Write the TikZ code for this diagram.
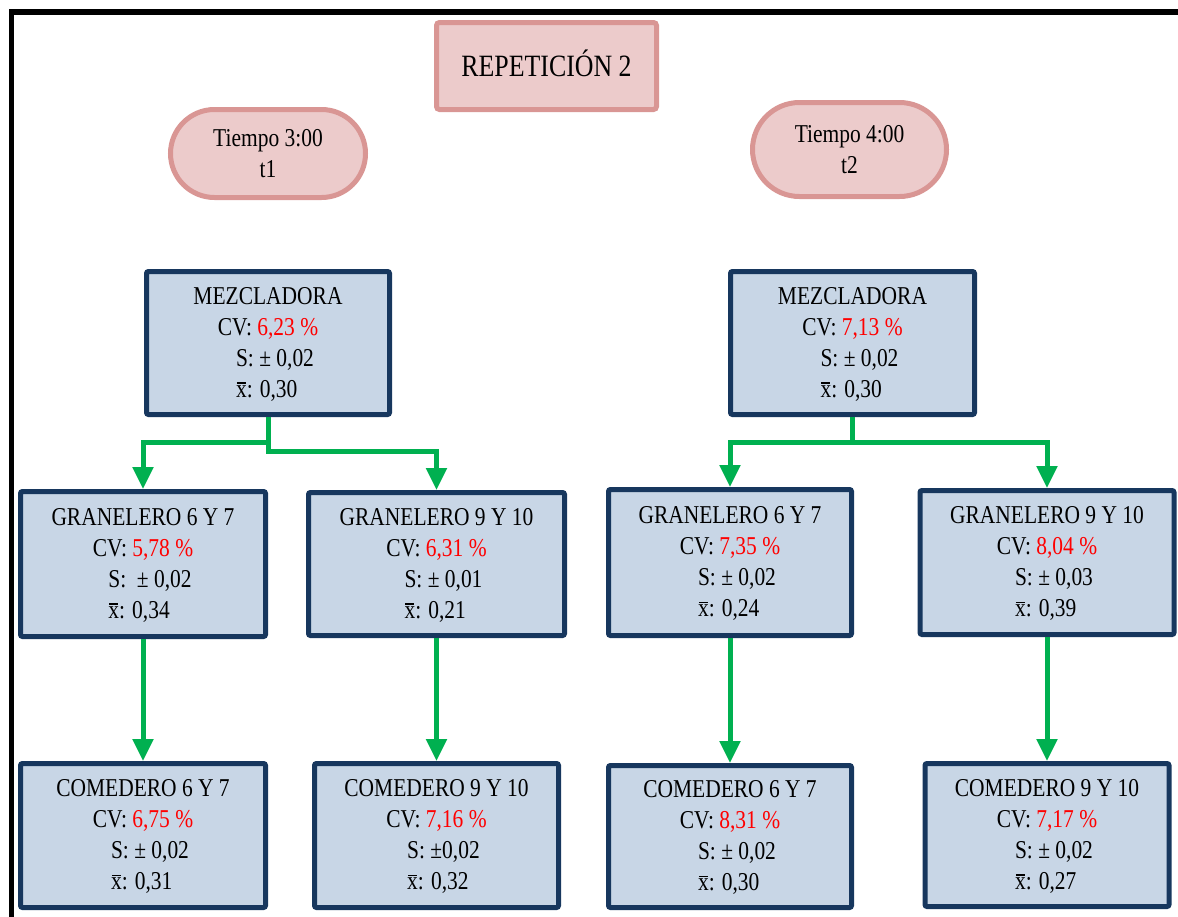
\documentclass[tikz,border=0pt]{standalone}
\usepackage{fontspec}
\setmainfont{Liberation Serif}[FakeStretch=0.835]
\usetikzlibrary{arrows.meta}

\definecolor{boxfill}{HTML}{C8D6E6}
\definecolor{boxline}{HTML}{17375E}
\definecolor{pinkfill}{HTML}{ECCBCB}
\definecolor{pinkline}{HTML}{D99694}
\definecolor{flowgreen}{HTML}{00B050}
\definecolor{cvred}{HTML}{FF0000}

\newcommand\bodyfont{\fontsize{25.7pt}{31pt}\selectfont}
% x with a bar (sample mean)
\newcommand\meanx{\rlap{\kern0.8pt\rule[13.5pt]{9pt}{1.5pt}}x}
% S and mean lines, left-aligned with each other
\newcommand\statlines[2]{\hspace*{14pt}\begin{tabular}[t]{@{}l@{}}S: #1\\\meanx: #2\end{tabular}}
% four-line content of a sampling point
\newcommand\boxtext[4]{\rule{0pt}{24.3pt}#1\\CV: \textcolor{cvred}{#2}\\\statlines{#3}{#4}}

\tikzset{
  databox/.style={draw=boxline, fill=boxfill, line width=5pt, rounded corners=2pt,
    align=center, inner sep=0pt, font=\bodyfont},
  timebox/.style={draw=pinkline, fill=pinkfill, line width=5pt,
    align=center, inner sep=0pt, font=\bodyfont},
  flow/.style={draw=flowgreen, line width=5pt, -{Triangle[width=20pt,length=22pt]}},
}

\begin{document}
\begin{tikzpicture}[x=1pt,y=-1pt]
\useasboundingbox (0,0) rectangle (1178,916);

% frame
\draw[line width=5.5pt] (11.5,920) -- (11.5,12) -- (1182,12);

% title
\node[timebox, rounded corners=3pt, minimum width=220pt, minimum height=87pt,
      text height=20.5pt, text depth=0pt, font=\fontsize{31pt}{36pt}\selectfont]
  (title) at (546.5,66) {REPETICIÓN 2};

% time labels
\node[timebox, rounded corners=44pt, minimum width=195pt, minimum height=88pt]
  (t1) at (268,153.5) {Tiempo 3:00\\t1};
\node[timebox, rounded corners=47pt, minimum width=194pt, minimum height=94pt]
  (t2) at (849.5,149.5) {Tiempo 4:00\\t2};

% mixers
\node[databox, minimum width=243pt, minimum height=143pt] (mezL) at (268,343)
  {\boxtext{MEZCLADORA}{6,23 \%}{± 0,02}{0,30}};
\node[databox, minimum width=244pt, minimum height=143pt] (mezR) at (852.5,343)
  {\boxtext{MEZCLADORA}{7,13 \%}{± 0,02}{0,30}};

% bulk bins
\node[databox, minimum width=245pt, minimum height=145pt] (granL1) at (143,564)
  {\boxtext{GRANELERO 6 Y 7}{5,78 \%}{\ ± 0,02}{0,34}};
\node[databox, minimum width=256pt, minimum height=143pt] (granL2) at (436.5,564)
  {\boxtext{GRANELERO 9 Y 10}{6,31 \%}{± 0,01}{0,21}};
\node[databox, minimum width=243pt, minimum height=146pt] (granR1) at (730,562.5)
  {\boxtext{GRANELERO 6 Y 7}{7,35 \%}{± 0,02}{0,24}};
\node[databox, minimum width=254pt, minimum height=144pt] (granR2) at (1047,562.5)
  {\boxtext{GRANELERO 9 Y 10}{8,04 \%}{± 0,03}{0,39}};

% feeders
\node[databox, minimum width=245pt, minimum height=144pt] (comL1) at (143,835.5)
  {\boxtext{COMEDERO 6 Y 7}{6,75 \%}{± 0,02}{0,31}};
\node[databox, minimum width=244pt, minimum height=144pt] (comL2) at (436.5,835.5)
  {\boxtext{COMEDERO 9 Y 10}{7,16 \%}{±0,02}{0,32}};
\node[databox, minimum width=243pt, minimum height=142pt] (comR1) at (730,836.5)
  {\boxtext{COMEDERO 6 Y 7}{8,31 \%}{± 0,02}{0,30}};
\node[databox, minimum width=244pt, minimum height=143pt] (comR2) at (1047,835)
  {\boxtext{COMEDERO 9 Y 10}{7,17 \%}{± 0,02}{0,27}};

% flows, left half
\coordinate (jL) at (268,451);
\draw[flow] (mezL.south) -- ++(0,25) -| (granL1.north);
\draw[flow] (mezL.south) -- (mezL.south |- jL) -| (granL2.north);
\draw[flow] (granL1.south) -- (comL1.north);
\draw[flow] (granL2.south) -- (comL2.north);

% flows, right half
\draw[flow] (mezR.south) -- ++(0,25) -| (granR1.north);
\draw[flow] (mezR.south) -- ++(0,25) -| (granR2.north);
\draw[flow] (granR1.south) -- (comR1.north);
\draw[flow] (granR2.south) -- (comR2.north);
\end{tikzpicture}
\end{document}
